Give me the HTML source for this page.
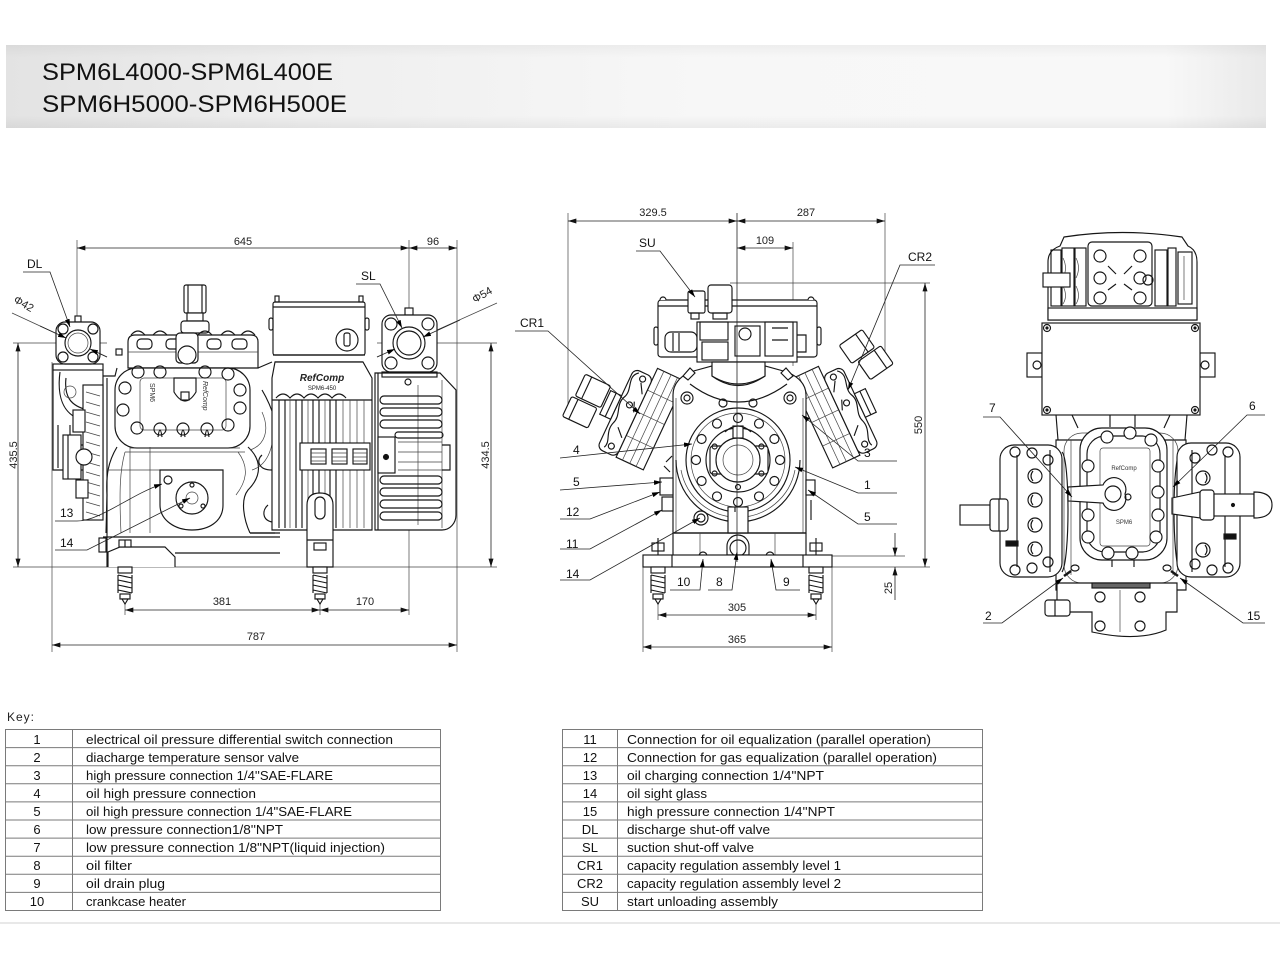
<!DOCTYPE html>
<html><head><meta charset="utf-8"><title>SPM6L4000-SPM6L400E / SPM6H5000-SPM6H500E</title>
<style>
html,body{margin:0;padding:0;background:#fff;width:1280px;height:960px;overflow:hidden}
svg{display:block}
.l{fill:none;stroke:#161616;stroke-width:1.15}
.lw{fill:#fff;stroke:#161616;stroke-width:1.15}
.t{fill:none;stroke:#444;stroke-width:.7}
.d{fill:none;stroke:#222;stroke-width:.8}
.dt{font-size:11px;fill:#222}
.lb{font-size:12px;fill:#111}
.tb{font-size:13px;fill:#111}
.tl{fill:none;stroke:#7a7a7a;stroke-width:1}
</style></head><body>
<svg width="1280" height="960" viewBox="0 0 1280 960" xmlns="http://www.w3.org/2000/svg" font-family="'Liberation Sans', sans-serif">
<defs>
<linearGradient id="hg" x1="0" x2="1" y1="0" y2="0">
<stop offset="0" stop-color="#e3e3e3"/><stop offset="0.25" stop-color="#efefef"/><stop offset="0.55" stop-color="#f7f7f7"/><stop offset="0.92" stop-color="#f8f8f8"/><stop offset="1" stop-color="#e9e9e9"/>
</linearGradient>
<linearGradient id="hv" x1="0" x2="0" y1="0" y2="1">
<stop offset="0" stop-color="#000" stop-opacity="0.04"/><stop offset="0.15" stop-color="#000" stop-opacity="0"/><stop offset="0.85" stop-color="#000" stop-opacity="0"/><stop offset="1" stop-color="#000" stop-opacity="0.05"/>
</linearGradient>
<marker id="a" viewBox="0 0 10 6" refX="10" refY="3" markerWidth="9" markerHeight="5" markerUnits="userSpaceOnUse" orient="auto-start-reverse"><path d="M0,0L10,3L0,6z" fill="#111"/></marker>
<marker id="b" viewBox="0 0 10 6" refX="10" refY="3" markerWidth="8" markerHeight="5" markerUnits="userSpaceOnUse" orient="auto"><path d="M0,0L10,3L0,6z" fill="#000"/></marker>
<g id="spr" class="lw">
<rect x="-7" y="0" width="14" height="6"/>
<path class="l" d="M-7,8 L7,11 M-7,13 L7,16 M-7,18 L7,21 M-7,23 L7,26 M-7,8 L-7,26 M7,8 L7,26"/>
<rect x="-5" y="27" width="10" height="5"/>
<path d="M-3,32 L3,32 L0,37 z"/>
</g>
<g id="bank">
<rect class="lw" x="-15" y="-50" width="30" height="98"/>
<line class="t" x1="0" y1="-50" x2="0" y2="48"/>
<line class="t" x1="-15" y1="-2" x2="15" y2="-2"/>
<line class="t" x1="-8" y1="-50" x2="-8" y2="48"/>
<line class="t" x1="7" y1="-50" x2="7" y2="48"/>
<line class="t" x1="-15" y1="-26" x2="15" y2="-26"/>
<line class="t" x1="-15" y1="24" x2="15" y2="24"/>
<rect class="lw" x="-36" y="-40" width="21" height="88" rx="6"/>
<path class="l" d="M-30,-38 C-40,-30 -28,-20 -33,-10 C-38,0 -28,8 -32,18 C-36,30 -26,36 -30,44"/>
<path class="l" d="M-24,-30 L-18,-20 M-26,20 L-18,28 M-22,-10 L-18,0"/>
<circle class="l" cx="-25" cy="-5" r="3"/>
<circle class="l" cx="-24" cy="-34" r="3"/>
<circle class="l" cx="-24" cy="40" r="3"/>
<rect class="lw" x="-48" y="-10" width="12" height="26"/>
<line class="l" x1="-42" y1="-10" x2="-42" y2="16"/>
</g>
</defs>

<!-- HEADER -->
<rect x="6" y="45" width="1260" height="83" fill="url(#hg)"/>
<rect x="6" y="45" width="1260" height="83" fill="url(#hv)"/>
<text x="42" y="80" font-size="24" fill="#111" textLength="291" lengthAdjust="spacingAndGlyphs">SPM6L4000-SPM6L400E</text>
<text x="42" y="112" font-size="24" fill="#111" textLength="305" lengthAdjust="spacingAndGlyphs">SPM6H5000-SPM6H500E</text>

<!-- ================= LEFT VIEW ================= -->
<g class="t">
<line x1="77" y1="240" x2="77" y2="323"/>
<line x1="409" y1="240" x2="409" y2="615"/>
<line x1="457" y1="240" x2="457" y2="652"/>
<line x1="52" y1="362" x2="52" y2="652"/>
<line x1="125" y1="598" x2="125" y2="615"/>
<line x1="320" y1="598" x2="320" y2="615"/>
<line x1="13" y1="343" x2="107" y2="343"/>
<line x1="377" y1="343" x2="497" y2="343"/>
<line x1="13" y1="567" x2="497" y2="567"/>
<line x1="12" y1="313" x2="107" y2="357"/>
<line x1="497" y1="303" x2="377" y2="357"/>
</g>
<g class="d">
<line x1="77" y1="248" x2="409" y2="248" marker-start="url(#a)" marker-end="url(#a)"/>
<line x1="409" y1="248" x2="457" y2="248" marker-start="url(#a)" marker-end="url(#a)"/>
<line x1="52" y1="645" x2="457" y2="645" marker-start="url(#a)" marker-end="url(#a)"/>
<line x1="125" y1="610" x2="320" y2="610" marker-start="url(#a)" marker-end="url(#a)"/>
<line x1="320" y1="610" x2="409" y2="610" marker-start="url(#a)" marker-end="url(#a)"/>
<line x1="18" y1="343" x2="18" y2="567" marker-start="url(#a)" marker-end="url(#a)"/>
<line x1="491" y1="343" x2="491" y2="567" marker-start="url(#a)" marker-end="url(#a)"/>
</g>
<g class="dt" text-anchor="middle">
<text x="243" y="245">645</text>
<text x="433" y="245">96</text>
<text x="256" y="640">787</text>
<text x="222" y="605">381</text>
<text x="365" y="605">170</text>
<text transform="translate(17,455) rotate(-90)">435.5</text>
<text transform="translate(489,455) rotate(-90)">434.5</text>
<text transform="translate(22,307) rotate(30)">Φ42</text>
<text transform="translate(484,298) rotate(-30)">Φ54</text>
</g>

<g class="l">
<!-- DL valve -->
<rect class="lw" x="75" y="316" width="6" height="6"/>
<rect class="lw" x="56" y="322" width="44" height="42" rx="9"/>
<circle cx="63" cy="329" r="5"/><circle cx="93" cy="329" r="5"/><circle cx="63" cy="357" r="5"/><circle cx="93" cy="357" r="5"/>
<circle cx="78" cy="343" r="13"/>
<circle cx="78" cy="343" r="10" class="t"/>
<!-- discharge pipe body -->
<rect x="53" y="364" width="50" height="6"/>
<path d="M53,370 L53,470 L103,470 L103,370"/>
<path d="M60,372 C57,395 62,414 82,420 L101,420"/>
<path d="M66,378 C64,396 70,406 88,410 L101,410"/>
<path d="M58,425 L58,468 M70,425 L70,445 L101,445"/>
<circle cx="70" cy="392" r="6" class="t"/>
<!-- oil pump side -->
<rect class="lw" x="83" y="385" width="20" height="135"/>
<path class="t" d="M86,392 L100,396 M86,402 L100,406 M86,412 L100,416 M86,422 L100,426 M86,432 L100,436 M86,442 L100,446 M86,452 L100,456 M86,462 L100,466 M86,472 L100,476 M86,482 L100,486 M86,492 L100,496 M86,502 L100,506 M86,512 L100,516"/>
<rect class="lw" x="63" y="435" width="18" height="44"/>
<line x1="68" y1="435" x2="68" y2="479"/>
<circle class="lw" cx="84" cy="457" r="8"/>
<rect class="lw" x="73" y="410" width="12" height="22"/>
<rect class="lw" x="76" y="480" width="12" height="18"/>
<!-- compressor body left outline -->
<path d="M107,378 L107,567"/>
<path d="M103,376 L115,376 L117,368"/>
<!-- upper head -->
<rect class="lw" x="184" y="285" width="22" height="28" rx="2"/>
<line x1="188" y1="285" x2="188" y2="313"/><line x1="202" y1="285" x2="202" y2="313"/>
<rect class="lw" x="187" y="313" width="16" height="8"/>
<rect class="lw" x="181" y="321" width="28" height="12" rx="3"/>
<path class="lw" d="M128,368 L128,342 Q128,335 135,335 L251,335 Q258,335 258,342 L258,368 Z"/>
<path d="M131,335 Q138,327 145,335 M153,335 Q160,327 167,335 M198,335 Q205,327 212,335 M221,335 Q228,327 235,335 M241,335 Q248,327 255,335"/>
<rect x="137" y="339" width="15" height="10" rx="4"/><rect x="166" y="339" width="14" height="10" rx="4"/><rect x="207" y="339" width="14" height="10" rx="4"/><rect x="232" y="339" width="15" height="10" rx="4"/>
<line x1="128" y1="352" x2="258" y2="352" class="t"/>
<rect x="116" y="349" width="6" height="6"/>
<rect class="lw" x="176" y="333" width="22" height="30" rx="4"/>
<circle class="lw" cx="187" cy="355" r="9"/>
<!-- front head -->
<rect class="lw" x="115" y="368" width="135" height="80" rx="22"/>
<rect x="140" y="378" width="86" height="52" rx="4" class="t"/>
<path d="M130,448 L240,448 M125,452 L245,452" class="t"/>
<circle cx="138" cy="372" r="6"/><circle cx="160" cy="372" r="6"/><circle cx="205" cy="372" r="6"/><circle cx="228" cy="374" r="6"/>
<circle cx="125" cy="388" r="6"/><circle cx="123" cy="410" r="6"/><circle cx="240" cy="390" r="6"/><circle cx="240" cy="408" r="6"/>
<circle cx="137" cy="428" r="6"/><circle cx="160" cy="429" r="6"/><circle cx="183" cy="429" r="6"/><circle cx="207" cy="429" r="6"/><circle cx="228" cy="425" r="6"/>
<path d="M158,437 Q160,423 162,437 M181,437 Q183,423 185,437 M205,437 Q207,423 209,437"/>
<path class="lw" d="M174,378 L196,378 L196,392 Q185,410 174,392 Z"/>
<rect x="181" y="392" width="8" height="8"/>
<!-- crankcase -->
<path d="M117,447 C108,462 106,475 107,495 L106,533"/>
<path d="M248,447 C262,460 262,476 248,490 C240,500 244,520 250,533"/>
<path class="t" d="M125,452 C120,470 119,490 121,533 M130,447 L130,533 M150,447 L150,533 M238,452 C250,468 246,482 236,495 M107,470 L160,470"/>
<path d="M250,450 C265,445 270,430 262,412 M252,470 C268,465 276,445 272,420" class="t"/>
<!-- oil sight cover -->
<path class="lw" d="M160,470 L223,470 L223,505 C223,522 208,530 192,530 C175,530 160,520 160,505 Z"/>
<circle cx="192" cy="498" r="16"/>
<circle cx="192" cy="498" r="6" class="t"/>
<circle cx="192" cy="485" r="2"/><circle cx="181" cy="506" r="2"/><circle cx="203" cy="506" r="2"/>
<circle cx="168" cy="480" r="4"/>
<!-- base -->
<path d="M103,537 L280,537 M175,553 L280,553 M250,533 L280,533"/>
<rect class="lw" x="99" y="538" width="7" height="14"/>
<path class="lw" d="M108,567 L108,552 L120,547 L165,547 L175,557 L175,567"/>
<rect class="lw" x="119" y="540" width="12" height="7"/>
<line x1="125" y1="540" x2="125" y2="547"/>
<!-- connecting region -->
<path d="M258,368 L272,362 M262,390 C268,400 272,410 275,420 M250,533 L275,533"/>
<!-- terminal box -->
<rect class="lw" x="273" y="302" width="92" height="53" rx="2"/>
<line x1="273" y1="307" x2="365" y2="307"/>
<rect x="275" y="296" width="4" height="6"/><rect x="359" y="296" width="4" height="6"/>
<rect x="269" y="318" width="4" height="12" rx="2"/><rect x="365" y="318" width="4" height="12" rx="2"/>
<circle cx="347" cy="340" r="11"/>
<rect x="344" y="333" width="6" height="13" rx="2"/>
<path d="M273,355 L365,355 M275,362 L363,362"/>
<!-- motor housing -->
<path class="lw" d="M275,362 L363,362 L372,378 L372,530 L272,530 L272,378 Z"/>
<path d="M276,398 Q283,390 290,398 Q297,390 304,398 Q311,390 318,398 Q325,390 332,398 Q339,390 346,398"/>
<line x1="272" y1="400" x2="372" y2="400"/>
<path d="M279,400 L279,528 M285,400 L285,528 M296,400 L296,528 M302,400 L302,528 M313,400 L313,528 M319,400 L319,528 M330,400 L330,528 M336,400 L336,528"/>
<path class="t" d="M290,400 L290,528 M308,400 L308,528 M325,400 L325,528 M343,400 L343,528 M350,400 L350,528 M357,400 L357,528 M364,400 L364,528"/>
<path d="M268,505 C262,510 262,520 272,522 M262,455 C256,460 258,470 272,470"/>
<rect class="lw" x="300" y="443" width="70" height="27"/>
<rect x="311" y="449" width="15" height="15"/><rect x="332" y="449" width="15" height="15"/><rect x="353" y="449" width="14" height="15"/>
<path class="t" d="M311,453 L326,453 M311,457 L326,457 M311,461 L326,461 M332,453 L347,453 M332,457 L347,457 M332,461 L347,461 M353,453 L367,453 M353,457 L367,457 M353,461 L367,461"/>
<path class="lw" d="M307,567 L307,505 Q307,493 320,493 Q333,493 333,505 L333,567 Z"/>
<rect x="315" y="497" width="10" height="22" rx="5"/>
<path d="M307,540 L333,540"/>
<rect class="lw" x="314" y="543" width="12" height="7"/>
<!-- right motor end -->
<path class="lw" d="M375,373 L440,373 L456,390 L456,515 C456,523 450,530 442,530 L375,530 Z"/>
<line x1="378" y1="373" x2="378" y2="530"/>
<line x1="418" y1="385" x2="418" y2="525" class="t"/>
<line x1="442" y1="380" x2="442" y2="528" class="t"/>
<rect x="380" y="396" width="62" height="8" rx="4"/><rect x="380" y="408" width="62" height="8" rx="4"/><rect x="380" y="420" width="62" height="8" rx="4"/><rect x="395" y="432" width="48" height="6" rx="3"/>
<rect x="380" y="476" width="62" height="8" rx="4"/><rect x="380" y="488" width="62" height="8" rx="4"/><rect x="380" y="500" width="62" height="8" rx="4"/><rect x="380" y="512" width="62" height="8" rx="4"/>
<path class="t" d="M398,442 L442,442 M398,452 L442,452 M398,462 L442,462 M398,470 L442,470"/>
<rect class="lw" x="378" y="437" width="17" height="36"/>
<circle cx="386" cy="457" r="2.5" fill="#111"/>
<path d="M442,445 L450,445 L450,470 L442,470"/>
<!-- SL valve -->
<rect class="lw" x="405" y="308" width="8" height="7"/>
<rect class="lw" x="382" y="315" width="55" height="57" rx="9"/>
<circle cx="391" cy="324" r="6"/><circle cx="428" cy="324" r="6"/><circle cx="391" cy="363" r="6"/><circle cx="428" cy="363" r="6"/>
<circle cx="409" cy="343" r="16"/>
<circle cx="409" cy="343" r="12"/>
<rect x="382" y="372" width="55" height="5"/>
<circle cx="408" cy="382" r="3"/>
</g>
<text x="322" y="381" font-size="10" font-style="italic" font-weight="bold" text-anchor="middle" fill="#222">RefComp</text>
<text x="322" y="390" font-size="6" text-anchor="middle" fill="#222">SPM6-450</text>
<text transform="translate(150,383) rotate(90)" font-size="7" fill="#333">SPM6</text>
<text transform="translate(203,381) rotate(90)" font-size="7" font-style="italic" fill="#333">RefComp</text>
<use href="#spr" transform="translate(125,567)"/>
<use href="#spr" transform="translate(320,567)"/>
<!-- left labels -->
<g class="d">
<polyline points="23,272 50,272 70,327" marker-end="url(#b)"/>
<polyline points="356,284 380,284 402,328" marker-end="url(#b)"/>
<path d="M55,521 L77,521 C100,521 130,495 162,484" marker-end="url(#b)"/>
<polyline points="55,550 87,550 190,498" marker-end="url(#b)"/>
<line x1="40" y1="326" x2="66" y2="338" marker-end="url(#b)"/>
<line x1="107" y1="357" x2="90" y2="349" marker-end="url(#b)"/>
<line x1="377" y1="357" x2="395" y2="349" marker-end="url(#b)"/>
<line x1="460" y1="320" x2="423" y2="337" marker-end="url(#b)"/>
</g>
<g class="lb">
<text x="27" y="268">DL</text>
<text x="361" y="280">SL</text>
<text x="60" y="517">13</text>
<text x="60" y="547">14</text>
</g>

<!-- ================= MIDDLE VIEW ================= -->
<g class="t">
<line x1="568" y1="213" x2="568" y2="408"/>
<line x1="793" y1="242" x2="793" y2="366"/>
<line x1="885" y1="213" x2="885" y2="352"/>
<line x1="730" y1="283" x2="930" y2="283"/>
<line x1="830" y1="567" x2="930" y2="567"/>
<line x1="800" y1="556" x2="905" y2="556"/>
<line x1="658" y1="598" x2="658" y2="620"/>
<line x1="816" y1="598" x2="816" y2="620"/>
<line x1="643" y1="567" x2="643" y2="652"/>
<line x1="832" y1="567" x2="832" y2="652"/>
</g>
<g class="d">
<line x1="568" y1="221" x2="737" y2="221" marker-start="url(#a)" marker-end="url(#a)"/>
<line x1="737" y1="221" x2="885" y2="221" marker-start="url(#a)" marker-end="url(#a)"/>
<line x1="737" y1="248" x2="793" y2="248" marker-start="url(#a)" marker-end="url(#a)"/>
<line x1="925" y1="283" x2="925" y2="567" marker-start="url(#a)" marker-end="url(#a)"/>
<line x1="658" y1="615" x2="816" y2="615" marker-start="url(#a)" marker-end="url(#a)"/>
<line x1="643" y1="647" x2="832" y2="647" marker-start="url(#a)" marker-end="url(#a)"/>
<line x1="895" y1="533" x2="895" y2="556" marker-end="url(#a)"/>
<line x1="895" y1="600" x2="895" y2="567" marker-end="url(#a)"/>
</g>
<g class="dt" text-anchor="middle">
<text x="653" y="216">329.5</text>
<text x="806" y="216">287</text>
<text x="765" y="244">109</text>
<text x="737" y="611">305</text>
<text x="737" y="643">365</text>
<text transform="translate(922,425) rotate(-90)">550</text>
<text transform="translate(892,588) rotate(-90)">25</text>
</g>

<!-- banks -->
<use href="#bank" transform="translate(650,420) rotate(25)"/>
<use href="#bank" transform="translate(826,418) scale(-1,1) rotate(25)"/>
<g class="l">
<g transform="translate(588,404) rotate(25)">
<rect class="lw" x="-15" y="-26" width="28" height="24" rx="2"/>
<rect class="lw" x="-18" y="0" width="28" height="22" rx="2"/>
<line x1="-8" y1="-26" x2="-8" y2="-2"/><line x1="-11" y1="0" x2="-11" y2="22"/>
</g>
<g transform="translate(866,356) rotate(-35)">
<rect class="lw" x="-16" y="-24" width="28" height="22" rx="2"/>
<rect class="lw" x="-10" y="0" width="28" height="22" rx="2"/>
<line x1="4" y1="-24" x2="4" y2="-2"/><line x1="10" y1="0" x2="10" y2="22"/>
</g>
<!-- central block -->
<path class="lw" d="M673,533 L673,395 Q673,380 690,372 L712,366 L765,366 L787,372 Q806,380 806,395 L806,533 Z"/>
<path d="M690,384 Q738,420 787,384"/>
<path d="M712,366 L712,376 Q738,395 765,376 L765,366"/>
<circle cx="687" cy="398" r="6"/><circle cx="687" cy="398" r="3"/>
<circle cx="790" cy="398" r="6"/><circle cx="790" cy="398" r="3"/>
<circle cx="723" cy="403" r="4"/><circle cx="753" cy="403" r="4"/>
<path class="lw" d="M683,376 L690,368 L695,373 L688,380 Z"/>
<path class="lw" d="M793,376 L786,368 L781,373 L788,380 Z"/>
<path d="M676,398 L676,533 M803,398 L803,533" class="t"/>
<!-- big circle -->
<path d="M676,460 A62,62 0 0 0 800,460"/>
<path d="M681,470 A58,58 0 0 0 795,470" class="t"/>
<circle class="lw" cx="738" cy="460" r="52"/>
<circle cx="738" cy="460" r="47" class="t"/>
<circle cx="780" cy="460" r="4.5"/><circle cx="774.4" cy="481" r="4.5"/><circle cx="759" cy="496.4" r="4.5"/><circle cx="738" cy="502" r="4.5"/><circle cx="717" cy="496.4" r="4.5"/><circle cx="701.6" cy="481" r="4.5"/><circle cx="696" cy="460" r="4.5"/><circle cx="701.6" cy="439" r="4.5"/><circle cx="717" cy="423.6" r="4.5"/><circle cx="738" cy="418" r="4.5"/><circle cx="759" cy="423.6" r="4.5"/><circle cx="774.4" cy="439" r="4.5"/>
<circle class="lw" cx="738" cy="460" r="32"/>
<rect class="lw" x="710" y="446" width="58" height="28" rx="3"/>
<circle class="lw" cx="738" cy="460" r="22"/>
<circle cx="738" cy="460" r="15" class="t"/>
<circle cx="761.4" cy="473.5" r="2.5"/><circle cx="738" cy="487" r="2.5"/><circle cx="714.6" cy="473.5" r="2.5"/><circle cx="714.6" cy="446.5" r="2.5"/><circle cx="738" cy="433" r="2.5"/><circle cx="761.4" cy="446.5" r="2.5"/>
<rect class="lw" x="733" y="426" width="10" height="12"/>
<path d="M725,432 Q738,420 751,432"/>
<rect class="lw" x="728" y="507" width="20" height="26"/>
<line x1="735" y1="507" x2="735" y2="512"/>
<!-- side bosses -->
<rect class="lw" x="660" y="478" width="13" height="17"/>
<rect class="lw" x="662" y="497" width="11" height="14"/>
<rect class="lw" x="806" y="480" width="9" height="15"/>
<path d="M666,462 L672,456 M664,466 L670,472" />
<line x1="811" y1="500" x2="811" y2="520"/>
<!-- sight glass -->
<circle cx="701" cy="518" r="7"/><circle cx="701" cy="518" r="4"/>
<!-- lower body -->
<path d="M673,533 L806,533 M673,533 L673,555 M806,533 L806,555"/>
<line x1="700" y1="533" x2="700" y2="555" class="t"/>
<line x1="775" y1="533" x2="775" y2="555" class="t"/>
<path class="lw" d="M727,555 L727,546 A11,11 0 0 1 749,546 L749,555 Z"/>
<circle cx="738" cy="548" r="8"/>
<circle cx="703" cy="556" r="4"/><circle cx="770" cy="556" r="4"/>
<!-- base plate -->
<rect class="lw" x="643" y="555" width="189" height="12"/>
<line x1="672" y1="555" x2="672" y2="567"/><line x1="803" y1="555" x2="803" y2="567"/>
<rect class="lw" x="652" y="543" width="12" height="8"/><rect class="lw" x="810" y="543" width="12" height="8"/>
<line x1="658" y1="538" x2="658" y2="555"/><line x1="816" y1="538" x2="816" y2="555"/>
<!-- top box -->
<rect class="lw" x="658" y="300" width="159" height="57" rx="3"/>
<line x1="658" y1="306" x2="817" y2="306"/>
<path class="lw" d="M660,300 A3,3 0 0 1 666,300 M808,300 A3,3 0 0 1 814,300"/>
<rect class="lw" x="654" y="327" width="4" height="18" rx="2"/>
<rect class="lw" x="817" y="327" width="4" height="18" rx="2"/>
<!-- SU solenoid -->
<rect class="lw" x="688" y="291" width="17" height="22" rx="2"/>
<rect class="lw" x="708" y="285" width="24" height="28" rx="3"/>
<rect x="691" y="313" width="8" height="6"/><rect x="713" y="313" width="14" height="6"/>
<!-- valve assembly -->
<rect class="lw" x="665" y="332" width="32" height="20" rx="6"/>
<line x1="673" y1="333" x2="673" y2="351"/><line x1="679" y1="333" x2="679" y2="351"/>
<rect class="lw" x="697" y="322" width="100" height="40"/>
<rect x="700" y="322" width="28" height="18"/><rect x="735" y="326" width="25" height="30"/><rect x="765" y="322" width="28" height="34"/>
<rect x="702" y="342" width="26" height="18"/>
<circle cx="745" cy="334" r="6"/>
<path d="M772,328 L788,328 M772,340 L788,340 M797,335 L806,335 L806,352 L797,352"/>
<path class="lw" d="M712,362 L765,362 L765,376 Q738,392 712,376 Z"/>
</g>
<use href="#spr" transform="translate(658,567)"/>
<use href="#spr" transform="translate(816,567)"/>
<line x1="737" y1="213" x2="737" y2="562" stroke="#222" stroke-width=".8"/>
<!-- middle labels -->
<g class="d">
<polyline points="636,251 660,251 695,297" marker-end="url(#b)"/>
<polyline points="515,331 548,331 640,414" marker-end="url(#b)"/>
<polyline points="935,265 900,265 848,390" marker-end="url(#b)"/>
<polyline points="560,458 692,444" marker-end="url(#b)"/>
<polyline points="560,490 662,482" marker-end="url(#b)"/>
<polyline points="560,519 590,519 660,492" marker-end="url(#b)"/>
<polyline points="560,549 590,549 662,510" marker-end="url(#b)"/>
<polyline points="560,580 590,580 700,518" marker-end="url(#b)"/>
<polyline points="897,461 858,461 802,415" marker-end="url(#b)"/>
<polyline points="897,493 858,493 795,467" marker-end="url(#b)"/>
<polyline points="897,524 858,524 808,490" marker-end="url(#b)"/>
<polyline points="670,590 700,590 703,559" marker-end="url(#b)"/>
<polyline points="708,590 732,590 737,552" marker-end="url(#b)"/>
<polyline points="800,590 776,590 771,559" marker-end="url(#b)"/>
</g>
<g class="lb">
<text x="639" y="247">SU</text>
<text x="520" y="327">CR1</text>
<text x="908" y="261">CR2</text>
<text x="573" y="454">4</text>
<text x="573" y="486">5</text>
<text x="566" y="516">12</text>
<text x="566" y="548">11</text>
<text x="566" y="578">14</text>
<text x="864" y="457">3</text>
<text x="864" y="489">1</text>
<text x="864" y="521">5</text>
<text x="677" y="586">10</text>
<text x="716" y="586">8</text>
<text x="783" y="586">9</text>
</g>

<!-- ================= RIGHT VIEW ================= -->
<g class="l">
<!-- top part -->
<path class="lw" d="M1048,320 L1048,262 Q1048,250 1060,246 L1064,237 Q1122,228 1182,237 L1188,246 Q1197,250 1197,262 L1197,320 Z"/>
<rect class="lw" x="1048" y="308" width="149" height="12"/>
<rect x="1051" y="250" width="10" height="56"/><rect x="1062" y="248" width="12" height="58"/><rect x="1075" y="248" width="11" height="58"/>
<path class="t" d="M1063,258 Q1068,268 1063,278 M1076,258 Q1081,268 1076,278 M1063,286 Q1068,296 1063,304 M1076,286 Q1081,296 1076,304"/>
<rect class="lw" x="1043" y="273" width="27" height="14"/>
<rect class="lw" x="1088" y="242" width="64" height="64" rx="4"/>
<circle cx="1100" cy="256" r="6"/><circle cx="1100" cy="278" r="6"/><circle cx="1100" cy="298" r="6"/>
<circle cx="1140" cy="256" r="6"/><circle cx="1140" cy="278" r="6"/><circle cx="1140" cy="298" r="6"/>
<path d="M1108,266 L1116,274 M1132,266 L1124,274 M1108,290 L1116,284 M1132,290 L1124,284"/>
<circle cx="1148" cy="280" r="5"/>
<rect x="1155" y="250" width="12" height="56"/><rect x="1168" y="248" width="8" height="58"/><rect x="1178" y="252" width="14" height="52"/>
<line x1="1184" y1="256" x2="1184" y2="300" class="t"/>
<!-- terminal box -->
<rect class="lw" x="1027" y="353" width="15" height="24"/>
<circle cx="1037" cy="365" r="4"/>
<rect class="lw" x="1200" y="353" width="15" height="24"/>
<circle cx="1205" cy="365" r="4"/>
<rect class="lw" x="1042" y="323" width="158" height="92"/>
<circle cx="1047" cy="328" r="3.5"/><circle cx="1195" cy="328" r="3.5"/><circle cx="1047" cy="410" r="3.5"/><circle cx="1195" cy="410" r="3.5"/>
<circle cx="1047" cy="328" r="1" fill="#111"/><circle cx="1195" cy="328" r="1" fill="#111"/><circle cx="1047" cy="410" r="1" fill="#111"/><circle cx="1195" cy="410" r="1" fill="#111"/>
<!-- main body -->
<path d="M1056,415 L1058,440 M1187,415 L1185,440"/>
<path class="lw" d="M1056,440 L1186,440 L1186,590 L1056,590 Z"/>
<path d="M1072,415 L1078,428 M1170,415 L1164,428 M1110,415 L1110,427 M1135,415 L1135,427"/>
<rect x="1064" y="433" width="114" height="150" rx="18" class="t"/>
<!-- left head -->
<path d="M1062,452 C1070,460 1070,560 1062,572"/>
<rect class="lw" x="1000" y="445" width="62" height="132" rx="14"/>
<line x1="1017" y1="455" x2="1017" y2="567"/><line x1="1050" y1="450" x2="1050" y2="572"/>
<circle cx="1035" cy="476" r="7"/><circle cx="1035" cy="500" r="7"/><circle cx="1035" cy="525" r="7"/><circle cx="1035" cy="549" r="7"/>
<path d="M1033,471 Q1029,476 1033,481 M1033,495 Q1029,500 1033,505 M1033,520 Q1029,525 1033,530 M1033,544 Q1029,549 1033,554"/>
<circle cx="1015" cy="452" r="5"/><circle cx="1032" cy="453" r="5"/><circle cx="1048" cy="460" r="5"/>
<circle cx="1015" cy="570" r="5"/><circle cx="1032" cy="568" r="5"/><circle cx="1048" cy="562" r="5"/>
<rect x="1006" y="541" width="12" height="5" fill="#111"/>
<rect class="lw" x="960" y="505" width="30" height="20"/>
<rect class="lw" x="990" y="499" width="18" height="32" rx="3"/>
<line x1="999" y1="499" x2="999" y2="531"/>
<!-- right head -->
<path d="M1180,452 C1172,460 1172,560 1180,572"/>
<rect class="lw" x="1177" y="443" width="63" height="134" rx="14"/>
<line x1="1192" y1="450" x2="1192" y2="572"/><line x1="1225" y1="455" x2="1225" y2="567"/>
<circle cx="1203" cy="478" r="7"/><circle cx="1203" cy="550" r="7"/>
<path d="M1205,473 Q1209,478 1205,483 M1205,545 Q1209,550 1205,555"/>
<circle cx="1195" cy="458" r="5"/><circle cx="1212" cy="450" r="5"/><circle cx="1228" cy="452" r="5"/>
<circle cx="1195" cy="564" r="5"/><circle cx="1212" cy="570" r="5"/><circle cx="1228" cy="568" r="5"/>
<rect x="1224" y="534" width="12" height="5" fill="#111"/>
<path class="lw" d="M1172,498 L1200,492 L1200,518 L1172,514 Z"/>
<rect class="lw" x="1200" y="490" width="14" height="30" rx="3"/>
<rect class="lw" x="1214" y="494" width="40" height="22"/>
<path class="lw" d="M1254,492 Q1272,492 1272,505 Q1272,518 1254,518 Z"/>
<circle cx="1233" cy="505" r="1.5" fill="#111"/>
<!-- cover -->
<rect class="lw" x="1080" y="428" width="87" height="132" rx="22" stroke-width="1.6"/>
<rect x="1087" y="436" width="73" height="116" rx="18"/>
<rect x="1100" y="448" width="50" height="98" rx="3" class="t"/>
<circle class="lw" cx="1107" cy="437" r="6"/><circle class="lw" cx="1130" cy="433" r="6"/><circle class="lw" cx="1151" cy="440" r="6"/>
<circle class="lw" cx="1088" cy="466" r="6"/><circle class="lw" cx="1088" cy="515" r="6"/><circle class="lw" cx="1088" cy="537" r="6"/>
<circle class="lw" cx="1158" cy="466" r="6"/><circle class="lw" cx="1158" cy="492" r="6"/><circle class="lw" cx="1158" cy="515" r="6"/><circle class="lw" cx="1156" cy="537" r="6"/>
<circle class="lw" cx="1108" cy="553" r="6"/><circle class="lw" cx="1132" cy="553" r="6"/>
<path class="lw" d="M1068,487 L1103,485 A11,11 0 0 1 1125,494 A11,11 0 0 1 1103,503 L1068,501 Z"/>
<circle cx="1113" cy="494" r="8"/>
<circle cx="1128" cy="497" r="3"/>
<line x1="1071" y1="440" x2="1071" y2="575" class="t"/>
<line x1="1173" y1="440" x2="1173" y2="575" class="t"/>
<path d="M1112,560 L1112,567 M1134,560 L1134,567"/>
<!-- screw holes -->
<ellipse cx="1075" cy="568" rx="4" ry="3"/>
<path d="M1071,571 L1064,576" stroke-width="2.5"/>
<ellipse cx="1167" cy="568" rx="4" ry="3"/>
<path d="M1171,571 L1178,576" stroke-width="2.5"/>
<!-- bottom pump -->
<path class="lw" d="M1057,583 L1177,583 L1177,612 L1166,612 L1166,630 Q1138,642 1092,632 L1092,612 L1057,612 Z"/>
<rect x="1092" y="583" width="58" height="5" fill="#666"/>
<circle cx="1100" cy="597" r="5"/><circle cx="1100" cy="626" r="5"/><circle cx="1140" cy="597" r="5"/><circle cx="1140" cy="626" r="5"/>
<line x1="1120" y1="590" x2="1120" y2="632" class="t"/>
<rect class="lw" x="1045" y="600" width="25" height="16" rx="3"/>
<line x1="1055" y1="600" x2="1055" y2="616"/>
</g>
<text x="1124" y="470" font-size="6" text-anchor="middle" fill="#333">RefComp</text>
<text x="1124" y="524" font-size="6" text-anchor="middle" fill="#333">SPM6</text>
<g class="d">
<polyline points="983,417 1000,417 1072,497" marker-end="url(#b)"/>
<polyline points="1265,415 1247,415 1173,487" marker-end="url(#b)"/>
<polyline points="983,623 1002,623 1063,578" marker-end="url(#b)"/>
<polyline points="1265,623 1243,623 1180,578" marker-end="url(#b)"/>
</g>
<g class="lb">
<text x="989" y="412">7</text>
<text x="1249" y="410">6</text>
<text x="985" y="620">2</text>
<text x="1247" y="620">15</text>
</g>

<!-- ================= KEY TABLES ================= -->
<text x="7" y="721" font-size="12" letter-spacing="1" fill="#222">Key:</text>
<g class="tl">
<rect x="5.5" y="729.5" width="435" height="181"/>
<line x1="72.5" y1="729.5" x2="72.5" y2="910.5"/>
<path d="M5.5,747.6H440.5M5.5,765.7H440.5M5.5,783.8H440.5M5.5,801.9H440.5M5.5,820H440.5M5.5,838.1H440.5M5.5,856.2H440.5M5.5,874.3H440.5M5.5,892.4H440.5"/>
<rect x="562.5" y="729.5" width="420" height="181"/>
<line x1="617.5" y1="729.5" x2="617.5" y2="910.5"/>
<path d="M562.5,747.6H982.5M562.5,765.7H982.5M562.5,783.8H982.5M562.5,801.9H982.5M562.5,820H982.5M562.5,838.1H982.5M562.5,856.2H982.5M562.5,874.3H982.5M562.5,892.4H982.5"/>
</g>
<g class="tb" text-anchor="middle">
<text x="37" y="744">1</text><text x="37" y="762">2</text><text x="37" y="780">3</text><text x="37" y="798">4</text><text x="37" y="816">5</text>
<text x="37" y="834">6</text><text x="37" y="852">7</text><text x="37" y="870">8</text><text x="37" y="888">9</text><text x="37" y="906">10</text>
<text x="590" y="744">11</text><text x="590" y="762">12</text><text x="590" y="780">13</text><text x="590" y="798">14</text><text x="590" y="816">15</text>
<text x="590" y="834">DL</text><text x="590" y="852">SL</text><text x="590" y="870">CR1</text><text x="590" y="888">CR2</text><text x="590" y="906">SU</text>
</g>
<g class="tb">
<text x="86" y="744" textLength="307" lengthAdjust="spacingAndGlyphs">electrical oil pressure differential switch connection</text>
<text x="86" y="762" textLength="213" lengthAdjust="spacingAndGlyphs">diacharge temperature sensor valve</text>
<text x="86" y="780" textLength="247" lengthAdjust="spacingAndGlyphs">high pressure connection 1/4''SAE-FLARE</text>
<text x="86" y="798" textLength="170" lengthAdjust="spacingAndGlyphs">oil high pressure connection</text>
<text x="86" y="816" textLength="266" lengthAdjust="spacingAndGlyphs">oil high pressure connection 1/4"SAE-FLARE</text>
<text x="86" y="834" textLength="197" lengthAdjust="spacingAndGlyphs">low pressure connection1/8''NPT</text>
<text x="86" y="852" textLength="299" lengthAdjust="spacingAndGlyphs">low pressure connection 1/8"NPT(liquid injection)</text>
<text x="86" y="870" textLength="46" lengthAdjust="spacingAndGlyphs">oil filter</text>
<text x="86" y="888" textLength="79" lengthAdjust="spacingAndGlyphs">oil drain plug</text>
<text x="86" y="906" textLength="100" lengthAdjust="spacingAndGlyphs">crankcase heater</text>
<text x="627" y="744" textLength="304" lengthAdjust="spacingAndGlyphs">Connection for oil equalization (parallel operation)</text>
<text x="627" y="762" textLength="310" lengthAdjust="spacingAndGlyphs">Connection for gas equalization (parallel operation)</text>
<text x="627" y="780" textLength="197" lengthAdjust="spacingAndGlyphs">oil charging connection 1/4"NPT</text>
<text x="627" y="798" textLength="80" lengthAdjust="spacingAndGlyphs">oil sight glass</text>
<text x="627" y="816" textLength="208" lengthAdjust="spacingAndGlyphs">high pressure connection 1/4''NPT</text>
<text x="627" y="834" textLength="143" lengthAdjust="spacingAndGlyphs">discharge shut-off valve</text>
<text x="627" y="852" textLength="127" lengthAdjust="spacingAndGlyphs">suction shut-off valve</text>
<text x="627" y="870" textLength="214" lengthAdjust="spacingAndGlyphs">capacity regulation assembly level 1</text>
<text x="627" y="888" textLength="214" lengthAdjust="spacingAndGlyphs">capacity regulation assembly level 2</text>
<text x="627" y="906" textLength="151" lengthAdjust="spacingAndGlyphs">start unloading assembly</text>
</g>
<line x1="0" y1="923" x2="1280" y2="923" stroke="#e0e0e0" stroke-width="1.5"/>
</svg>
</body></html>
